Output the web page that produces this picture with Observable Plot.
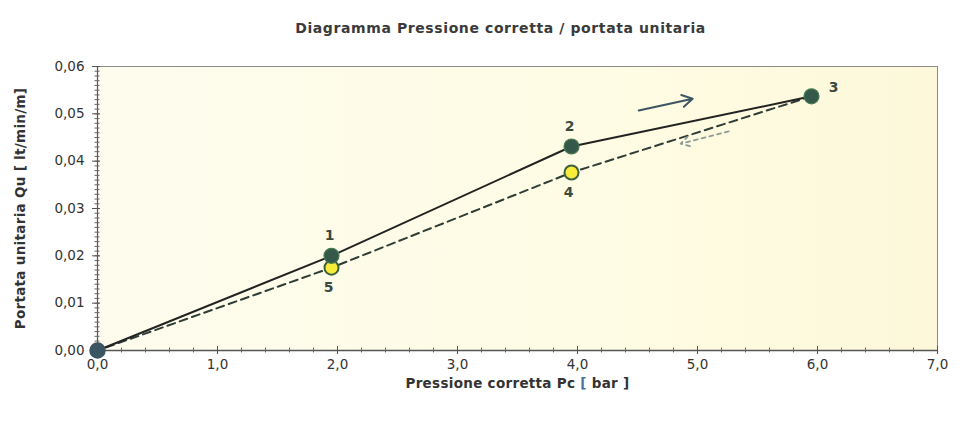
<!DOCTYPE html>
<html>
<head>
<meta charset="utf-8">
<script src="https://cdn.jsdelivr.net/npm/d3@7"></script>
<script src="https://cdn.jsdelivr.net/npm/@observablehq/plot@0.6"></script>
<style>
  html, body { margin: 0; padding: 0; background: #fff; }
  #title { height: 19px; padding-top: 21px; padding-left: 40px; text-align: center;
    font: bold 14px "DejaVu Sans", sans-serif; line-height: 14px; color: #3a3a3a; letter-spacing: 0.6px; }
  #chart svg { display: block; }
</style>
</head>
<body>
<div id="title">Diagramma Pressione corretta / portata unitaria</div>
<div id="chart"></div>
<script>
// Forward (loading) series: points 0,1,2,3
const pressForward = [0, 1.95, 3.95, 5.95];
const flowForward = [0, 0.0200, 0.0431, 0.0537];
// Return (unloading) series: points 3,4,5,0
const pressReturn = [5.95, 3.95, 1.95, 0];
const flowReturn = [0.0537, 0.0376, 0.0175, 0];
// Point labels
const pointNames = ["1", "2", "3", "4", "5"];
const pointPress = [1.95, 3.95, 5.95, 3.95, 1.95];
const pointFlow = [0.0200, 0.0431, 0.0537, 0.0376, 0.0175];
// Direction arrows
const arrowX1 = [4.51, 5.26];
const arrowY1 = [0.0507, 0.0463];
const arrowX2 = [4.96, 4.86];
const arrowY2 = [0.0532, 0.0437];
// Ticks
const xTicks = [0, 1, 2, 3, 4, 5, 6, 7];
const yTicks = [0, 0.01, 0.02, 0.03, 0.04, 0.05, 0.06];
const xLabel = "Pressione corretta Pc [ bar ]";
const yLabel = "Portata unitaria Qu [ lt/min/m]";

const forward = pressForward.map((p, i) => ({p, q: flowForward[i]}));
const ret = pressReturn.map((p, i) => ({p, q: flowReturn[i]}));
const pts = pointNames.map((n, i) => ({n, p: pointPress[i], q: pointFlow[i]}));
const arrows = arrowX1.map((x1, i) => ({x1, y1: arrowY1[i], x2: arrowX2[i], y2: arrowY2[i]}));
const minorX = d3.range(0, 7.0001, 0.2).map(v => +v.toFixed(2));
const minorY = d3.range(0, 0.06001, 0.001).map(v => +v.toFixed(4));

const font = '"DejaVu Sans", sans-serif';

const plot = Plot.plot({
  width: 961,
  height: 388,
  marginLeft: 97,
  marginRight: 24,
  marginTop: 26,
  marginBottom: 78,
  style: {fontFamily: font, background: "transparent"},
  x: {domain: [0, 7]},
  y: {domain: [0, 0.06]},
  marks: [
    Plot.frame({fill: "url(#bgGrad)", stroke: "#8c8c8c", strokeWidth: 1}),
    // axes lines
    Plot.ruleY([0], {stroke: "#555", strokeWidth: 1.5}),
    Plot.ruleX([0], {stroke: "#555", strokeWidth: 1.2}),
    // minor ticks
    Plot.ruleX(minorX, {x: d => d, y1: () => 0, y2: () => 0, insetTop: -2.5, insetBottom: -2.5, stroke: "#666", strokeWidth: 1}),
    Plot.ruleY(minorY, {y: d => d, x1: () => 0, x2: () => 0, insetLeft: -2.5, insetRight: -2.5, stroke: "#666", strokeWidth: 1}),
    // major ticks
    Plot.ruleX(xTicks, {x: d => d, y1: () => 0, y2: () => 0, insetTop: -4, insetBottom: -4, stroke: "#555", strokeWidth: 1}),
    Plot.ruleY(yTicks, {y: d => d, x1: () => 0, x2: () => 0, insetLeft: -5, insetRight: -3, stroke: "#555", strokeWidth: 1}),
    Plot.axisX({ticks: xTicks, tickSize: 0, tickPadding: 9, tickFormat: d => d.toFixed(1).replace(".", ","), fontSize: 13.5, fill: "#333", label: null}),
    Plot.axisY({ticks: yTicks, tickSize: 0, tickPadding: 13, tickFormat: d => d.toFixed(2).replace(".", ","), fontSize: 13.5, fill: "#333", label: null}),
    // lines
    Plot.line(ret, {x: "p", y: "q", stroke: "#2f3d37", strokeWidth: 2, strokeDasharray: "8,5"}),
    Plot.line(forward, {x: "p", y: "q", stroke: "#222", strokeWidth: 2}),
    // arrows
    Plot.arrow(arrows.slice(0, 1), {x1: "x1", y1: "y1", x2: "x2", y2: "y2", stroke: "#3e5663", strokeWidth: 2, headLength: 9}),
    Plot.arrow(arrows.slice(1), {x1: "x1", y1: "y1", x2: "x2", y2: "y2", stroke: "#8e9c98", strokeWidth: 1.8, strokeDasharray: "4,4", headLength: 8}),
    // markers
    Plot.dot(ret.slice(1, 3), {x: "p", y: "q", r: 7, fill: "#f5ec3c", stroke: "#3f5f3f", strokeWidth: 2}),
    Plot.dot(forward.slice(1), {x: "p", y: "q", r: 7.5, fill: "#34584a", stroke: "#4a7a52", strokeWidth: 1.2}),
    Plot.dot(forward.slice(0, 1), {x: "p", y: "q", r: 7.5, fill: "#3b5563", stroke: "#3b5563"}),
    // point labels
    Plot.text(pts.filter(d => d.n === "1" || d.n === "2"), {x: "p", y: "q", text: "n", dy: -20, dx: -2, fontSize: 14, fontWeight: "bold", fill: "#3a4a40"}),
    Plot.text(pts.filter(d => d.n === "3"), {x: "p", y: "q", text: "n", dx: 22, dy: -9, fontSize: 14, fontWeight: "bold", fill: "#3a4a40"}),
    Plot.text(pts.filter(d => d.n === "4" || d.n === "5"), {x: "p", y: "q", text: "n", dy: 20, dx: -3, fontSize: 14, fontWeight: "bold", fill: "#3a4a40"}),
    // axis titles
    Plot.text([xLabel], {frameAnchor: "bottom", dy: 33, text: d => d, fontSize: 13.5, fontWeight: "bold", fill: "#333", lineAnchor: "middle", textAnchor: "middle", className: "xlab"}),
    Plot.text([yLabel], {frameAnchor: "left", dx: -77, rotate: -90, text: d => d, fontSize: 13.5, fontWeight: "bold", fill: "#333", lineAnchor: "middle", textAnchor: "middle", className: "ylab"})
  ]
});

// gradient background for the plot area
const svg = d3.select(plot);
const defs = svg.insert("defs", ":first-child");
const g = defs.append("linearGradient").attr("id", "bgGrad").attr("x1", "0").attr("x2", "1").attr("y1", "0").attr("y2", "0");
g.append("stop").attr("offset", "0%").attr("stop-color", "#fdfcee");
g.append("stop").attr("offset", "60%").attr("stop-color", "#fefce4");
g.append("stop").attr("offset", "100%").attr("stop-color", "#fdf8da");

svg.selectAll(".xlab text, .ylab text").style("letter-spacing", "0.3px");

// colour the brackets of the x label
svg.selectAll(".xlab text").each(function() {
  const t = d3.select(this);
  const s = t.text();
  const i = s.indexOf("[");
  if (i < 0) return;
  t.text(null);
  t.append("tspan").text(s.slice(0, i));
  t.append("tspan").attr("fill", "#4a6fa5").text("[");
  t.append("tspan").text(s.slice(i + 1));
});

document.getElementById("chart").appendChild(plot);
</script>
</body>
</html>
